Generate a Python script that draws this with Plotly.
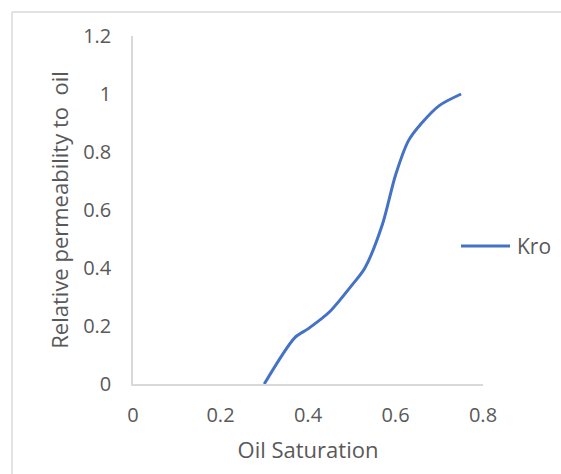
import plotly.graph_objects as go

# Data
oil_saturation = [0.30, 0.37, 0.40, 0.45, 0.50, 0.53, 0.57, 0.60, 0.63, 0.66, 0.70, 0.75]
kro = [0.00, 0.16, 0.19, 0.25, 0.34, 0.40, 0.55, 0.72, 0.84, 0.90, 0.96, 1.00]
x_ticks = [0, 0.2, 0.4, 0.6, 0.8]
y_ticks = [0, 0.2, 0.4, 0.6, 0.8, 1, 1.2]
series_name = "Kro"

W, H = 561, 474
L, R, T, B = 133, 78, 36, 90
pw, ph = W - L - R, H - T - B

def px(xp):
    return (xp - L) / pw

def py(yp):
    return (H - B - yp) / ph

font_family = "Open Sans"
text_color = "#595959"
axis_color = "#d9d9d9"
line_color = "#4472C4"

fig = go.Figure()
fig.add_trace(go.Scatter(
    x=oil_saturation, y=kro, mode="lines", name=series_name, showlegend=False,
    line=dict(color=line_color, width=3, shape="spline", smoothing=0.8),
))

fig.update_layout(
    width=W, height=H,
    margin=dict(l=L, r=R, t=T, b=B),
    paper_bgcolor="white", plot_bgcolor="white",
    font=dict(family=font_family, size=20, color=text_color),
    xaxis=dict(range=[0, 0.8], tickvals=x_ticks, ticktext=[f"{v:g}" for v in x_ticks],
               showgrid=False, zeroline=False, showline=True, linecolor=axis_color, linewidth=1.5,
               ticks="", ticklabelstandoff=12,
               title=dict(text="Oil Saturation", font=dict(size=22, color=text_color), standoff=16)),
    yaxis=dict(range=[0, 1.2], tickvals=y_ticks, ticktext=[f"{v:g}" for v in y_ticks],
               showgrid=False, zeroline=False, showline=True, linecolor=axis_color, linewidth=1.5,
               ticks="", ticklabelstandoff=16,
               title=dict(text="Relative permeability to\u00a0 oil", font=dict(size=22, color=text_color), standoff=8)),
)

# legend drawn as in the reference (long line sample + label)
fig.add_shape(type="line", xref="paper", yref="paper", x0=px(461), y0=py(246), x1=px(510), y1=py(246),
              line=dict(color=line_color, width=3))
fig.add_annotation(xref="paper", yref="paper", x=px(515), y=py(246), xanchor="left", yanchor="middle",
                   text=series_name, showarrow=False, font=dict(size=21, color=text_color))

# chart-area border (top and left visible)
fig.add_shape(type="line", xref="paper", yref="paper", x0=px(12), y0=py(12), x1=px(W + 5), y1=py(12),
              line=dict(color=axis_color, width=1.5), layer="below")
fig.add_shape(type="line", xref="paper", yref="paper", x0=px(12), y0=py(12), x1=px(12), y1=py(H + 5),
              line=dict(color=axis_color, width=1.5), layer="below")

fig.write_html("out.html")
